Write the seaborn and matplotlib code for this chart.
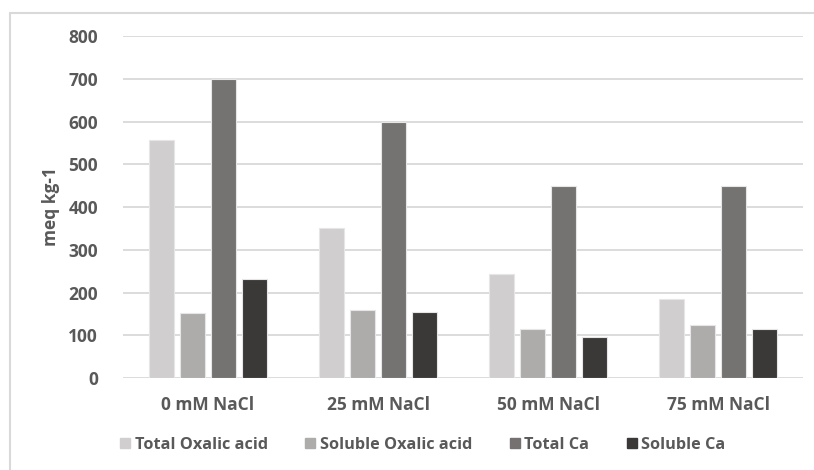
import numpy as np
import pandas as pd
import matplotlib
matplotlib.use('Agg')
import matplotlib.pyplot as plt
import seaborn as sns
from matplotlib.lines import Line2D

# 数据
categories = ['0 mM NaCl', '25 mM NaCl', '50 mM NaCl', '75 mM NaCl']
series_names = ['Total Oxalic acid', 'Soluble Oxalic acid', 'Total Ca', 'Soluble Ca']
total_oxalic = [556, 352, 243, 186]
soluble_oxalic = [153, 158, 115, 125]
total_ca = [700, 600, 450, 450]
soluble_ca = [232, 155, 97, 115]
y_ticks = [0, 100, 200, 300, 400, 500, 600, 700, 800]

colors = ['#D0CECE', '#AEABAB', '#767171', '#3B3838']
text_color = '#595959'
grid_color = '#D9D9D9'

df = pd.DataFrame({
    'category': categories * 4,
    'series': np.repeat(series_names, len(categories)),
    'value': total_oxalic + soluble_oxalic + total_ca + soluble_ca,
})

sns.set_theme(style='white')
plt.rcParams['font.family'] = ['Open Sans', 'DejaVu Sans']

fig = plt.figure(figsize=(8.14, 4.70), dpi=100)
ax = fig.add_axes([0.1511, 0.1957, 0.8354, 0.7277])

sns.barplot(data=df, x='category', y='value', hue='series', order=categories,
            hue_order=series_names, palette=colors, width=0.73, gap=0.22,
            edgecolor='#E6E6E6', linewidth=0.8, ax=ax, legend=False, zorder=3)

ax.set_xlim(-0.5, 3.5)
ax.set_ylim(0, 800)
ax.set_yticks(y_ticks)
ax.yaxis.grid(True, color=grid_color, linewidth=1.3, zorder=0)
ax.set_axisbelow(True)
for s in ax.spines.values():
    s.set_visible(False)
ax.tick_params(axis='both', length=0, labelsize=12.5, labelcolor=text_color)
ax.tick_params(axis='y', pad=18)
ax.tick_params(axis='x', pad=13)
for lab in ax.get_xticklabels() + ax.get_yticklabels():
    lab.set_fontweight('bold')
ax.set_xlabel('')
ax.set_ylabel('meq kg-1', fontsize=12.5, fontweight='bold', color=text_color, labelpad=6)

# 图例
handles = [Line2D([0], [0], marker='s', linestyle='', markersize=7.5,
                  markerfacecolor=c, markeredgecolor=c) for c in colors]
leg = fig.legend(handles, series_names, loc='center', bbox_to_anchor=(423 / 814, 1 - 445 / 470),
                 ncol=4, frameon=False, handlelength=0.6, handletextpad=0.3, columnspacing=2.3,
                 prop={'weight': 'bold', 'size': 11.7})
for t in leg.get_texts():
    t.set_color(text_color)

# 外框
fig.add_artist(Line2D([10 / 814, 1], [1 - 13 / 470, 1 - 13 / 470], color=grid_color, linewidth=1.5))
fig.add_artist(Line2D([10 / 814, 10 / 814], [0, 1 - 13 / 470], color=grid_color, linewidth=1.5))

fig.savefig('out.png', dpi=100)
plt.close(fig)
